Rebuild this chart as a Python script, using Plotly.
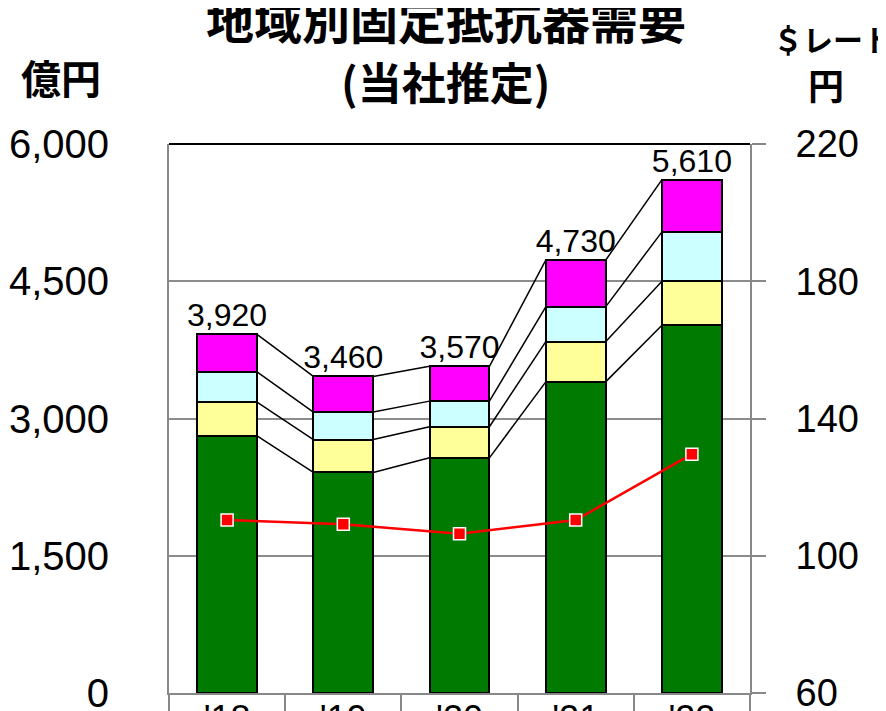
import plotly.graph_objects as go

years = ["'18", "'19", "'20", "'21", "'22"]
green = [2810, 2410, 2570, 3400, 4020]
yellow = [370, 360, 340, 440, 480]
cyan = [330, 300, 280, 380, 540]
magenta = [410, 390, 380, 510, 570]
totals = [3920, 3460, 3570, 4730, 5610]
usd_jpy = [110.4, 109.2, 106.4, 110.4, 129.6]
left_ticks = [0, 1500, 3000, 4500, 6000]
right_ticks = [60, 100, 140, 180, 220]

NUM_FONT = "Liberation Sans, Arial, sans-serif"
JP_FONT = "Noto Sans CJK JP, sans-serif"

# page body has an 8px margin; lay out in screen pixels and shift
OFF = 8
FIG_W, FIG_H = 886 - OFF, 711 - OFF
PL, PR, PT, PB = 169, 750, 144, 693  # plot area in screen pixels

x = list(range(len(years)))
W = 0.515

fig = go.Figure()
series = [green, yellow, cyan, magenta]
colors = ["#007A00", "#FFFF99", "#CCFFFF", "#FF00FF"]
for vals, col in zip(series, colors):
    fig.add_bar(x=x, y=vals, width=W,
                marker=dict(color=col, line=dict(color="black", width=2)),
                hoverinfo="skip")

# connector lines between stacked segment tops
cum = [0] * len(x)
for vals in series:
    cum = [c + v for c, v in zip(cum, vals)]
    xs, ys = [], []
    for i in range(len(x) - 1):
        xs += [x[i] + W / 2, x[i + 1] - W / 2, None]
        ys += [cum[i], cum[i + 1], None]
    fig.add_scatter(x=xs, y=ys, mode="lines",
                    line=dict(color="black", width=1.5), hoverinfo="skip")

# total labels
fig.add_scatter(x=x, y=totals, mode="text",
                text=[f"{v:,}" for v in totals], textposition="top center",
                textfont=dict(family=NUM_FONT, size=32, color="black"),
                hoverinfo="skip")

# exchange rate line
fig.add_scatter(x=x, y=usd_jpy, yaxis="y2", mode="lines+markers",
                line=dict(color="#FF0000", width=2.5),
                marker=dict(symbol="square", size=12, color="#FF0000",
                            line=dict(color="white", width=1.5)),
                hoverinfo="skip")

fig.update_layout(
    width=FIG_W, height=FIG_H,
    margin=dict(l=PL - OFF, r=FIG_W - (PR - OFF), t=PT - OFF,
                b=FIG_H - (PB - OFF), autoexpand=False),
    paper_bgcolor="white", plot_bgcolor="white",
    barmode="stack", showlegend=False,
    xaxis=dict(range=[-0.5, 4.5], tickvals=x, ticktext=years, ticks="",
               showgrid=False, zeroline=False, showline=True,
               linecolor="#888888", linewidth=2, ticklabeloverflow="allow",
               ticklabelstandoff=-7,
               tickfont=dict(family=NUM_FONT, size=36, color="black"),
               minor=dict(tickvals=[i - 0.5 for i in range(len(x) + 1)],
                          ticks="outside", ticklen=40, tickcolor="#888888",
                          tickwidth=2, showgrid=False)),
    yaxis=dict(range=[0, 6000], tickvals=left_ticks, tickformat=",",
               showgrid=True, gridcolor="#8C8C8C", gridwidth=2,
               zeroline=False, showline=True, linecolor="#888888", linewidth=2,
               ticks="", ticklabelstandoff=50, ticklabeloverflow="allow",
               tickfont=dict(family=NUM_FONT, size=40, color="black")),
    yaxis2=dict(range=[60, 220], tickvals=right_ticks, overlaying="y",
                side="right", showgrid=False, zeroline=False,
                showline=True, linecolor="#888888", linewidth=2,
                ticks="outside", ticklen=14, tickcolor="#888888", tickwidth=2,
                ticklabelstandoff=22, ticklabeloverflow="allow",
                tickfont=dict(family=NUM_FONT, size=38, color="black")),
    shapes=[dict(type="line", xref="paper", yref="paper", x0=0, x1=1,
                 y0=1, y1=1, line=dict(color="black", width=2))],
)


def px_x(p):
    return (p - PL) / float(PR - PL)


def px_y(p):
    return (PB - p) / float(PB - PT)


annots = [
    ("<b>地域別固定抵抗器需要</b>", 446, 18, 48),
    ("<b>(当社推定)</b>", 445, 81, 44),
    ("<b>億円</b>", 61, 77, 40),
    ("<b>＄レート</b>", 833, 38, 30),
    ("<b>円</b>", 826, 84, 36),
]
for text, ax, ay, size in annots:
    fig.add_annotation(text=text, xref="paper", yref="paper",
                       x=px_x(ax), y=px_y(ay), xanchor="center", yanchor="middle",
                       showarrow=False,
                       font=dict(family=JP_FONT, size=size, color="black"))

fig.write_html("out.html")
